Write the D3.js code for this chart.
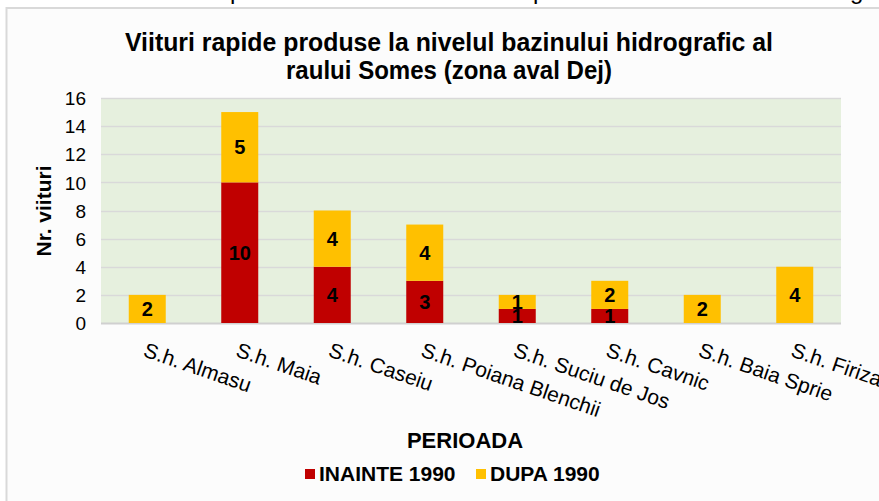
<!DOCTYPE html>
<html><head><meta charset="utf-8">
<script src="https://cdn.jsdelivr.net/npm/d3@7"></script>
<style>
html,body{margin:0;padding:0;background:#fff;}
svg{display:block;font-family:"Liberation Sans",Arial,sans-serif;}
</style></head>
<body>
<svg id="c" width="879" height="501"></svg>
<script>
const categories = ["S.h. Almasu","S.h. Maia","S.h. Caseiu","S.h. Poiana Blenchii","S.h. Suciu de Jos","S.h. Cavnic","S.h. Baia Sprie","S.h. Firiza"];
const inainte1990 = [0,10,4,3,1,1,0,0];
const dupa1990 = [2,5,4,4,1,2,2,4];
const seriesNames = ["INAINTE 1990","DUPA 1990"];
const yTicks = [0,2,4,6,8,10,12,14,16];
const titleLines = ["Viituri rapide produse la nivelul bazinului hidrografic al","raului Somes (zona aval Dej)"];
const colors = ["#c00000","#ffc000"];

const svg = d3.select("#c");
// clipped line of text above the chart (descenders only)
svg.append("g").selectAll("text").data([["p",230],["p",533],["g",850]]).join("text")
  .attr("x",d=>d[1]).attr("y",-1).attr("font-size",24).attr("fill","#000").text(d=>d[0]);

// outer chart frame
svg.append("rect").attr("x",6.5).attr("y",8).attr("width",900).attr("height",520)
  .attr("fill","#fcfcfc").attr("stroke","#d9d9d9").attr("stroke-width",2);

const plot = {l:101, r:841, t:98, b:323};
const x = d3.scaleBand().domain(categories).range([plot.l,plot.r]).paddingInner(0.6).paddingOuter(0.3);
const y = d3.scaleLinear().domain([0,16]).range([plot.b,plot.t]);

svg.append("rect").attr("x",plot.l).attr("y",plot.t).attr("width",plot.r-plot.l).attr("height",plot.b-plot.t).attr("fill","#e6f0de");

// gridlines
svg.append("g").selectAll("line").data(yTicks).join("line")
  .attr("x1",plot.l).attr("x2",plot.r).attr("y1",d=>Math.round(y(d))+0.5).attr("y2",d=>Math.round(y(d))+0.5)
  .attr("stroke",d=>d===0?"#d0d0d0":"#d9d9d9").attr("stroke-width",d=>d===0?2:1.5);

// y axis labels
const yAxis = d3.axisLeft(y).tickValues(yTicks).tickSize(0).tickPadding(0);
const ya = svg.append("g").attr("transform",`translate(86,0)`).call(yAxis);
ya.select(".domain").remove();
ya.selectAll("text").attr("font-size",19).attr("fill","#000").attr("font-family","Liberation Sans, Arial, sans-serif").attr("dy","0.35em");

// stacked data
const rows = categories.map((c,i)=>({cat:c, [seriesNames[0]]:inainte1990[i], [seriesNames[1]]:dupa1990[i]}));
const stack = d3.stack().keys(seriesNames)(rows);
const bars = svg.append("g");
stack.forEach((s,si)=>{
  bars.selectAll(null).data(s).join("rect")
    .attr("x",d=>x(d.data.cat)).attr("width",x.bandwidth())
    .attr("y",d=>y(d[1])).attr("height",d=>y(d[0])-y(d[1]))
    .attr("fill",colors[si]);
});
stack.forEach((s,si)=>{
  bars.selectAll(null).data(s.filter(d=>d[1]-d[0]>0)).join("text")
    .attr("x",d=>x(d.data.cat)+x.bandwidth()/2).attr("y",d=>y((d[0]+d[1])/2))
    .attr("dy","0.36em").attr("text-anchor","middle").attr("font-size",20).attr("font-weight","bold")
    .attr("fill","#000").text(d=>d[1]-d[0]);
});

// x labels
svg.append("g").selectAll("text").data(categories).join("text")
  .attr("transform",d=>`translate(${x(d)+x.bandwidth()/2-5},356) rotate(19)`)
  .attr("font-size",21).attr("fill","#000").text(d=>d);

// title (slightly condensed to mimic a narrow bold face)
const titleWidths = [648,326];
svg.append("g").selectAll("text").data(titleLines).join("text")
  .attr("x",449).attr("y",(d,i)=>51+i*28).attr("text-anchor","middle")
  .attr("font-size",25.5).attr("font-weight","bold").attr("fill","#000")
  .attr("textLength",(d,i)=>titleWidths[i]).attr("lengthAdjust","spacingAndGlyphs").text(d=>d);

// y title
svg.append("text").attr("transform","translate(51,211) rotate(-90)").attr("text-anchor","middle")
  .attr("font-size",21).attr("font-weight","bold").attr("fill","#000").text("Nr. viituri");

// x title
svg.append("text").attr("x",465).attr("y",448).attr("text-anchor","middle")
  .attr("font-size",22).attr("font-weight","bold").attr("fill","#000").text("PERIOADA");

// legend
const legX = [305,476];
const lg = svg.append("g").selectAll("g").data(seriesNames).join("g")
  .attr("transform",(d,i)=>`translate(${legX[i]},469)`);
lg.append("rect").attr("width",10).attr("height",10).attr("fill",(d,i)=>colors[i]);
lg.append("text").attr("x",14).attr("y",11.5).attr("font-size",21).attr("font-weight","bold").attr("fill","#000").text(d=>d);
</script>
</body></html>
